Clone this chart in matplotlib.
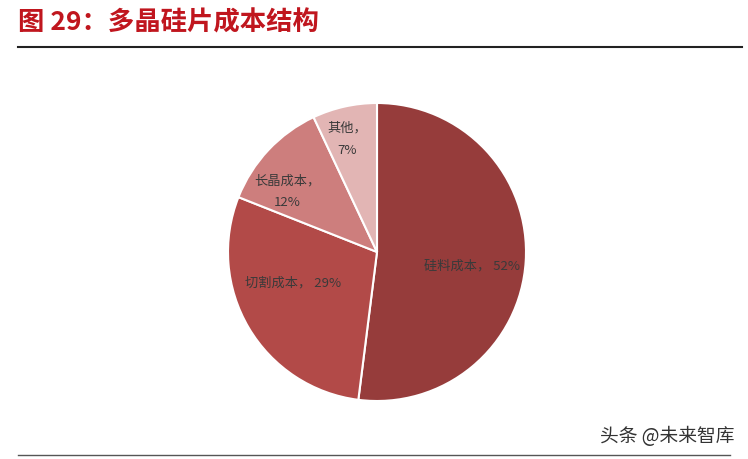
import numpy as np
import matplotlib.pyplot as plt

plt.rcParams['font.family'] = ['Noto Sans CJK SC', 'DejaVu Sans']

# data
categories = ['硅料成本', '切割成本', '长晶成本', '其他']
shares = [52, 29, 12, 7]
colors = ['#963c3b', '#b24a48', '#cd7e7d', '#e2b5b4']
label_text = ['硅料成本， 52%', '切割成本， 29%', '长晶成本，\n12%', '其他，\n7%']
label_dist = [0.64, 0.60, 0.73, 0.79]
label_turn = [-4, -11, 9, 2]   # small angular nudges (deg) off slice middle

W, H = 748, 460
fig = plt.figure(figsize=(W / 100, H / 100), dpi=100)

# pie axes: centre (377, 253) px, radius 148 px
cx, cy, r = 377, 253, 149
ax = fig.add_axes([(cx - r) / W, (H - cy - r) / H, 2 * r / W, 2 * r / H])
wedges, _ = ax.pie(shares, colors=colors, startangle=90, counterclock=False,
                   radius=1.0, wedgeprops=dict(edgecolor='white', linewidth=1.5))
ax.set_xlim(-1, 1)
ax.set_ylim(-1, 1)
ax.set_aspect('equal')
ax.axis('off')

for w, txt, d, t in zip(wedges, label_text, label_dist, label_turn):
    ang = np.deg2rad((w.theta1 + w.theta2) / 2 + t)
    ax.text(d * np.cos(ang), d * np.sin(ang), txt, ha='center', va='center',
            fontsize=9.5, color='#3a3a3a', linespacing=1.9)

# title and rules
fig.text(18 / W, 1 - 23 / H, '图 29：多晶硅片成本结构', fontsize=19, fontweight='bold',
         color='#c0161e', ha='left', va='center')
fig.add_artist(plt.Line2D([18 / W, 742 / W], [1 - 48 / H, 1 - 48 / H], color='#222222', lw=1.5))
fig.add_artist(plt.Line2D([18 / W, 730 / W], [1 - 456 / H, 1 - 456 / H], color='#555555', lw=1.0))

fig.text(735 / W, 1 - 437 / H, '头条 @未来智库', fontsize=13.5, color='#333333',
         ha='right', va='center')

fig.savefig('out.png', dpi=100)
